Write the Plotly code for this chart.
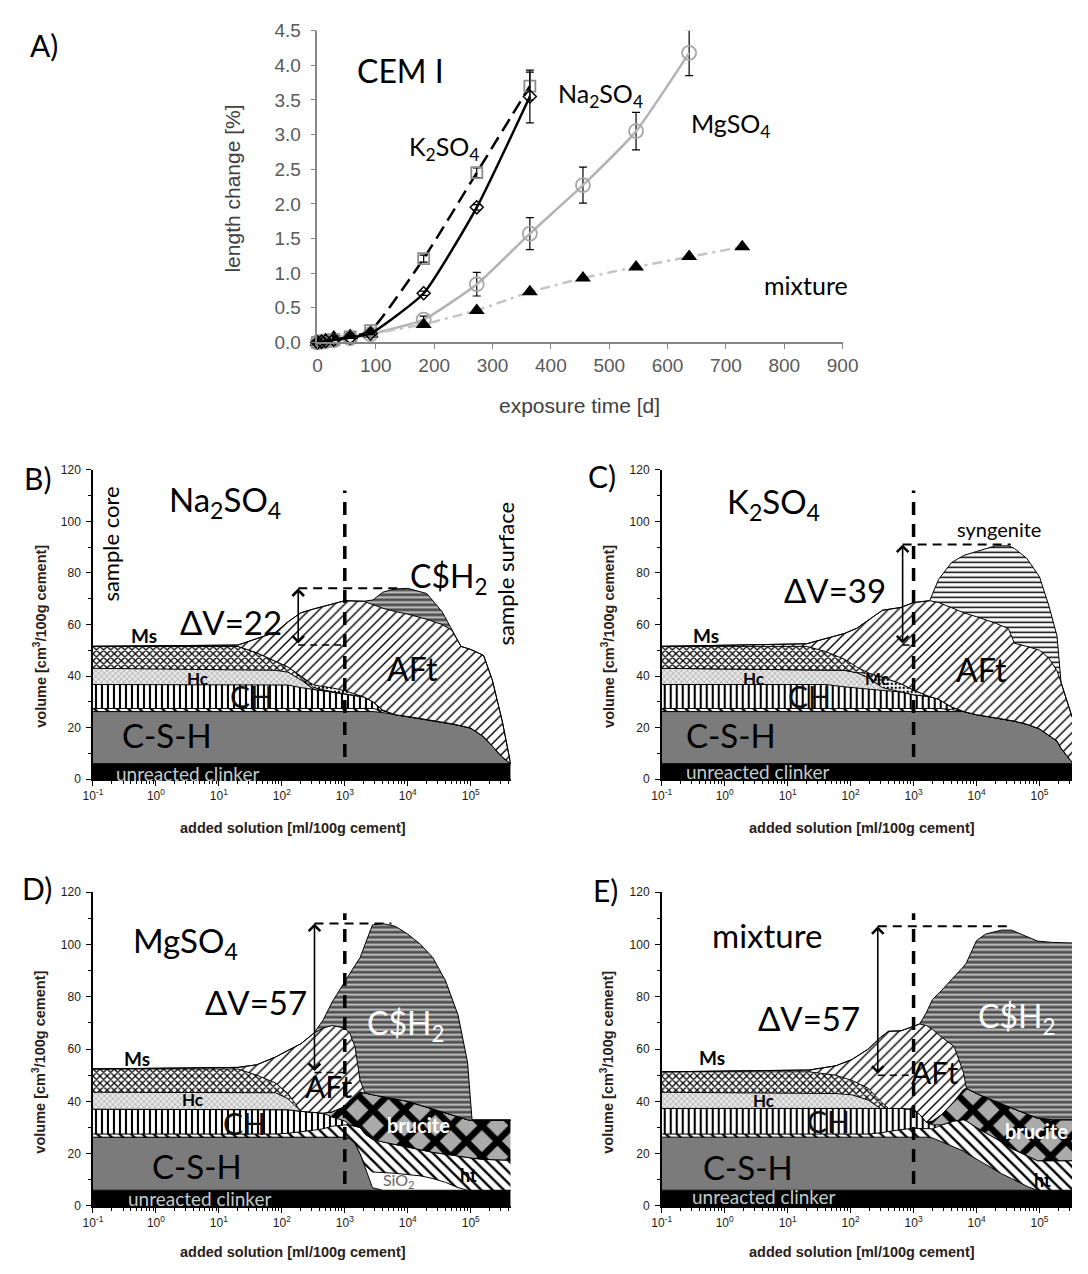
import numpy as np
import plotly.graph_objects as go

W, H = 1088, 1274


def px(x):
    return x / W


def py(y):
    return 1 - y / H


CAL = "Lato, 'Open Sans', sans-serif"
ARIAL = "'Liberation Sans', Arial, sans-serif"

# ---------------------------------------------------------------
# A) length change of CEM I bars in sulfate solutions
# ---------------------------------------------------------------
days_k2so4 = [0, 7, 14, 28, 56, 91, 182, 273, 364]
len_k2so4 = [0, 0.01, 0.02, 0.04, 0.08, 0.17, 1.21, 2.45, 3.70]
err_k2so4 = [0, 0, 0, 0, 0, 0, 0.05, 0.07, 0.20]

days_na2so4 = [0, 7, 14, 28, 56, 91, 182, 273, 364]
len_na2so4 = [0, 0.01, 0.02, 0.04, 0.07, 0.13, 0.71, 1.95, 3.55]
err_na2so4 = [0, 0, 0, 0, 0, 0, 0.03, 0.04, 0.38]

days_mgso4 = [0, 7, 14, 28, 56, 91, 182, 273, 364, 455, 546, 637]
len_mgso4 = [0, 0.01, 0.02, 0.03, 0.06, 0.12, 0.33, 0.84, 1.57, 2.27, 3.05, 4.18]
err_mgso4 = [0, 0, 0, 0, 0, 0, 0.05, 0.17, 0.23, 0.26, 0.27, 0.33]

days_mix = [0, 7, 14, 28, 56, 91, 182, 273, 364, 455, 546, 637, 728]
len_mix = [0, 0.02, 0.04, 0.08, 0.10, 0.12, 0.26, 0.46, 0.73, 0.93, 1.09, 1.24, 1.38]

# ---------------------------------------------------------------
# B-E) modelled phase assemblage: cumulative upper boundary of each
# phase [cm3/100 g cement] vs. added solution [ml/100 g cement]
# ---------------------------------------------------------------
B_x = [0.1, 20, 40, 80, 125, 200, 320, 630, 1000, 2000, 2800, 4000, 6300,
       1e4, 2e4, 3.5e4, 5e4, 7e4, 1e5, 1.6e5, 2.2e5, 3.2e5, 4.3e5]
B_clinker = [6] * 23
B_csh = [26.2, 26.2, 26.2, 26.2, 26.2, 26.2, 26.2, 26.2, 26.2, 26.2, 26.2, 25.8, 25.0,
         24.3, 23.2, 22.2, 21.5, 20.7, 19.8, 16.5, 13.0, 8.5, 6]
B_ht = [27.4, 27.4, 27.4, 27.4, 27.4, 27.4, 27.4, 27.4, 27.4, 27.4, 27.4, 26.5, 25.0,
        24.3, 23.2, 22.2, 21.5, 20.7, 19.8, 16.5, 13.0, 8.5, 6]
B_ch = [36.7, 36.7, 36.7, 36.7, 36.5, 35.5, 34.8, 33.9, 33.1, 31.9, 30.0, 26.8, 25.0,
        24.3, 23.2, 22.2, 21.5, 20.7, 19.8, 16.5, 13.0, 8.5, 6]
B_hc = [43.0, 42.5, 42.4, 42.2, 41.5, 38.5, 34.8, 33.9, 33.1, 31.9, 30.0, 26.8, 25.0,
        24.3, 23.2, 22.2, 21.5, 20.7, 19.8, 16.5, 13.0, 8.5, 6]
B_ms = [51.5, 51.5, 49.0, 45.5, 43.5, 40.0, 35.5, 33.9, 33.1, 31.9, 30.0, 26.8, 25.0,
        24.3, 23.2, 22.2, 21.5, 20.7, 19.8, 16.5, 13.0, 8.5, 6]
B_mc = [51.5, 51.5, 49.0, 45.5, 43.5, 40.0, 36.5, 35.4, 34.3, 31.9, 30.0, 26.8, 25.0,
        24.3, 23.2, 22.2, 21.5, 20.7, 19.8, 16.5, 13.0, 8.5, 6]
B_aft = [51.5, 52.0, 54.5, 57.0, 61.0, 64.5, 66.0, 68.0, 69.2, 69.0, 67.8, 66.3, 65.0,
         64.0, 62.0, 60.0, 57.8, 51.5, 50.3, 48.0, 38.5, 22.0, 6]
B_gyp = [51.5, 52.0, 54.5, 57.0, 61.0, 64.5, 66.0, 68.0, 69.2, 69.0, 69.5, 72.5, 73.8,
         74.0, 72.0, 65.0, 57.8, 51.5, 50.3, 48.0, 38.5, 22.0, 6]

C_x = [0.1, 20, 40, 80, 125, 200, 320, 630, 1000, 1800, 2500, 4000, 6300,
       1e4, 2e4, 3.2e4, 4e4, 6.3e4, 1e5, 1.4e5, 1.9e5, 2.2e5, 2.8e5, 3.3e5]
C_clinker = [6] * 24
C_csh = [26.2, 26.2, 26.2, 26.2, 26.2, 26.2, 26.2, 26.2, 26.2, 26.2, 26.2, 26.2, 26.2,
         25.0, 23.8, 23.0, 22.5, 21.3, 19.5, 17.0, 14.8, 12.0, 8.5, 6.5]
C_ht = [27.4, 27.4, 27.4, 27.4, 27.4, 27.4, 27.4, 27.4, 27.4, 27.4, 27.4, 27.0, 26.2,
        25.0, 23.8, 23.0, 22.5, 21.3, 19.5, 17.0, 14.8, 12.0, 8.5, 6.5]
C_ch = [36.7, 36.7, 36.7, 35.8, 35.3, 34.8, 34.4, 33.8, 32.7, 32.0, 31.0, 28.0, 26.2,
        25.0, 23.8, 23.0, 22.5, 21.3, 19.5, 17.0, 14.8, 12.0, 8.5, 6.5]
C_hc = [43.0, 42.4, 42.4, 42.2, 41.3, 39.0, 35.5, 33.8, 32.7, 32.0, 31.0, 28.0, 26.2,
        25.0, 23.8, 23.0, 22.5, 21.3, 19.5, 17.0, 14.8, 12.0, 8.5, 6.5]
C_mc = [43.0, 42.4, 42.4, 42.2, 41.3, 41.0, 39.5, 37.0, 34.5, 32.0, 31.0, 28.0, 26.2,
        25.0, 23.8, 23.0, 22.5, 21.3, 19.5, 17.0, 14.8, 12.0, 8.5, 6.5]
C_ms = [51.5, 51.5, 49.5, 46.5, 43.5, 41.0, 39.5, 37.0, 34.5, 32.0, 31.0, 28.0, 26.2,
        25.0, 23.8, 23.0, 22.5, 21.3, 19.5, 17.0, 14.8, 12.0, 8.5, 6.5]
C_aft = [51.5, 52.5, 54.5, 56.5, 58.5, 62.0, 65.5, 66.6, 68.5, 69.2, 68.5, 66.5, 64.5,
         63.0, 60.5, 58.4, 52.7, 51.5, 50.0, 47.0, 42.0, 37.5, 30.0, 24.0]
C_syn = [51.5, 52.5, 54.5, 56.5, 58.5, 62.0, 65.5, 66.6, 68.5, 69.2, 77.5, 84.0, 86.8,
         88.3, 90.5, 90.5, 89.5, 85.6, 78.5, 67.5, 55.5, 37.5, 30.0, 24.0]

D_x = [0.1, 20, 40, 80, 125, 200, 320, 450, 630, 1000, 1200, 1450, 1750, 2100,
       2750, 4000, 6300, 1e4, 1.6e4, 2.5e4, 4e4, 6.3e4, 8.9e4, 1.05e5, 1.6e5, 4.3e5]
D_clinker = [6] * 26
D_csh = [26.3, 26.3, 26.3, 26.3, 26.3, 26.3, 26.3, 26.3, 26.3, 26.3, 25.8, 24.0, 20.0,
         15.0, 7.0, 6, 6, 6, 6, 6, 6, 6, 6, 6, 6, 6]
D_sio2 = [26.3, 26.3, 26.3, 26.3, 26.3, 26.3, 26.3, 26.3, 26.3, 26.3, 25.8, 24.0, 20.0,
          15.5, 13.0, 12.8, 12.5, 12.0, 11.5, 10.5, 9.0, 7.0, 6.0, 6.0, 6.0, 6.0]
D_ht = [27.5, 27.5, 27.5, 27.5, 27.8, 28.3, 29.0, 29.5, 30.5, 31.0, 31.0, 30.5, 30.0,
        27.5, 25.5, 24.5, 23.5, 22.5, 21.5, 20.5, 19.8, 19.0, 18.5, 18.3, 17.8, 17.5]
D_ch = [37.0, 37.0, 37.0, 37.0, 36.8, 36.2, 35.8, 35.5, 34.0, 32.5, 31.0, 30.5, 30.0,
        27.5, 25.5, 24.5, 23.5, 22.5, 21.5, 20.5, 19.8, 19.0, 18.5, 18.3, 17.8, 17.5]
D_brucite = [37.0, 37.0, 37.0, 37.0, 36.8, 36.2, 35.8, 35.5, 36.0, 38.0, 40.0, 42.0, 43.6,
             43.2, 42.5, 41.8, 41.0, 40.0, 38.5, 37.0, 35.5, 34.0, 33.0, 32.8, 32.8, 32.8]
D_hc = [43.5, 43.5, 43.4, 43.3, 41.0, 36.2, 35.8, 35.5, 36.0, 38.0, 40.0, 42.0, 43.6,
        43.2, 42.5, 41.8, 41.0, 40.0, 38.5, 37.0, 35.5, 34.0, 33.0, 32.8, 32.8, 32.8]
D_ms = [52.4, 52.4, 50.0, 47.0, 43.0, 36.2, 35.8, 35.5, 36.0, 38.0, 40.0, 42.0, 43.6,
        43.2, 42.5, 41.8, 41.0, 40.0, 38.5, 37.0, 35.5, 34.0, 33.0, 32.8, 32.8, 32.8]
D_aft = [52.4, 53.0, 54.0, 57.0, 59.5, 62.0, 66.0, 68.0, 69.0, 68.0, 66.0, 61.0, 48.0,
         43.2, 42.5, 41.8, 41.0, 40.0, 38.5, 37.0, 35.5, 34.0, 33.0, 32.8, 32.8, 32.8]
D_gyp = [52.4, 53.0, 54.0, 57.0, 59.5, 62.0, 66.0, 71.0, 78.0, 86.0, 89.0, 92.0, 95.0,
         100.0, 107.5, 108.0, 107.0, 104.0, 100.0, 95.0, 86.0, 73.0, 55.0, 32.8, 32.8, 32.8]

E_x = [0.1, 22, 58, 105, 190, 300, 400, 630, 1000, 1250, 1600, 2000, 2800, 4400,
       6200, 6900, 1e4, 1.4e4, 2.5e4, 3.6e4, 6.6e4, 9.3e4, 1.6e5, 3.3e5]
E_clinker = [6] * 24
E_csh = [26.3, 26.3, 26.3, 26.3, 26.3, 26.3, 26.3, 26.3, 26.3, 26.3, 26.3, 26.0, 24.5,
         22.5, 21.0, 20.2, 18.0, 16.0, 12.3, 10.5, 7.3, 6.0, 6, 6]
E_ht = [27.5, 27.5, 27.5, 27.5, 27.5, 28.0, 28.5, 29.2, 29.7, 29.7, 29.5, 29.5, 31.0,
        32.5, 33.0, 32.5, 30.0, 28.0, 24.5, 22.0, 19.0, 17.3, 17.3, 17.3]
E_ch = [37.3, 37.3, 37.3, 37.3, 37.3, 37.3, 37.3, 37.3, 37.0, 35.0, 32.0, 31.0, 31.0,
        32.5, 33.0, 32.5, 30.0, 28.0, 24.5, 22.0, 19.0, 17.3, 17.3, 17.3]
E_brucite = [37.3, 37.3, 37.3, 37.3, 37.3, 37.3, 37.3, 37.3, 37.0, 35.0, 32.0, 32.5, 35.0,
             40.0, 44.5, 45.0, 43.0, 41.5, 39.0, 37.5, 35.0, 33.6, 33.0, 33.0]
E_hc = [43.5, 43.3, 43.0, 42.5, 40.5, 37.3, 37.3, 37.3, 37.0, 35.0, 32.0, 32.5, 35.0,
        40.0, 44.5, 45.0, 43.0, 41.5, 39.0, 37.5, 35.0, 33.6, 33.0, 33.0]
E_ms = [51.3, 51.3, 50.0, 48.0, 45.0, 40.0, 37.3, 37.3, 37.0, 35.0, 32.0, 32.5, 35.0,
        40.0, 44.5, 45.0, 43.0, 41.5, 39.0, 37.5, 35.0, 33.6, 33.0, 33.0]
E_aft = [51.3, 52.0, 53.6, 56.0, 60.0, 64.5, 66.8, 67.0, 68.7, 69.6, 69.0, 67.5, 64.5,
         61.0, 51.0, 45.0, 43.0, 41.5, 39.0, 37.5, 35.0, 33.6, 33.0, 33.0]
E_gyp = [51.3, 52.0, 53.6, 56.0, 60.0, 64.5, 66.8, 67.0, 68.7, 69.6, 74.0, 79.0, 82.5,
         87.5, 91.5, 93.0, 101.5, 104.0, 105.5, 105.5, 102.7, 101.3, 100.8, 100.6]

# expansion arrows: position [ml/100 g], initial volume, volume increase
dv_x = {'B': 182, 'C': 670, 'D': 330, 'E': 270}
dv_base = {'B': 52, 'C': 52, 'D': 51, 'E': 50}
dv_value = {'B': 22, 'C': 39, 'D': 57, 'E': 57}
dv_top_end = {'B': 7000, 'C': 3.5e4, 'D': 5500, 'E': 3.2e4}

decade_vals = [0.1, 1, 10, 100, 1e3, 1e4, 1e5]
decade_text = ['10<sup>-1</sup>', '10<sup>0</sup>', '10<sup>1</sup>', '10<sup>2</sup>',
               '10<sup>3</sup>', '10<sup>4</sup>', '10<sup>5</sup>']


def pat(shape, fg, bg, size, solidity):
    return dict(shape=shape, fgcolor=fg, bgcolor=bg, size=size, solidity=solidity,
                fillmode='replace')


STYLE = {
    'clinker': dict(color='black'),
    'csh': dict(color='#7b7b7b'),
    'sio2': dict(color='white'),
    'ht': dict(pattern=pat('\\', 'black', 'white', 8, 0.3)),
    'ch': dict(pattern=pat('|', 'black', 'white', 6, 0.35)),
    'hc': dict(pattern=pat('x', '#a2a2a2', '#e6e6e6', 4, 0.3)),
    'ms': dict(pattern=pat('x', 'black', 'white', 5, 0.45)),
    'mc': dict(pattern=pat('.', 'black', 'white', 4, 0.3)),
    'aft': dict(pattern=pat('/', 'black', 'white', 7, 0.2)),
    'gyp': dict(pattern=pat('-', '#c6c6c6', '#4f4f4f', 5, 0.4)),
    'syn': dict(pattern=pat('-', 'black', 'white', 5, 0.3)),
    'brucite': dict(pattern=pat('x', 'black', '#ababab', 22, 0.5)),
}

fig = go.Figure()

# ---------------- panel A traces ----------------
err_style = dict(type='data', visible=True, color='black', thickness=1.2, width=4)

fig.add_trace(go.Scatter(
    x=days_mgso4, y=len_mgso4, mode='lines+markers', name='MgSO4',
    line=dict(color='#b3b3b3', width=2.5, shape='spline', smoothing=0.5),
    marker=dict(symbol='circle-open', size=14, color='#a6a6a6', line=dict(width=1.8)),
    error_y=dict(array=err_mgso4, **err_style), cliponaxis=False))
fig.add_trace(go.Scatter(
    x=days_mix, y=len_mix, mode='lines+markers', name='mixture',
    line=dict(color='#c4c4c4', width=2.5, dash='10px,5px,3px,5px'),
    marker=dict(symbol='triangle-up', size=14, color='black'), cliponaxis=False))
fig.add_trace(go.Scatter(
    x=days_k2so4, y=len_k2so4, mode='lines+markers', name='K2SO4',
    line=dict(color='black', width=2.5, dash='14px,7px', shape='spline', smoothing=0.5),
    marker=dict(symbol='square-open', size=11, color='#8c8c8c', line=dict(width=1.8)),
    error_y=dict(array=err_k2so4, **err_style), cliponaxis=False))
fig.add_trace(go.Scatter(
    x=days_na2so4, y=len_na2so4, mode='lines+markers', name='Na2SO4',
    line=dict(color='black', width=2.5, shape='spline', smoothing=0.5),
    marker=dict(symbol='diamond-open', size=10, color='black', line=dict(width=1.5)),
    error_y=dict(array=err_na2so4, **err_style), cliponaxis=False))


# ---------------- panels B-E ----------------
def add_stack(xa, ya, x, layers):
    for i, (key, top) in enumerate(layers):
        st = STYLE[key]
        kw = dict(fillcolor=st.get('color', 'white'))
        if 'pattern' in st:
            kw['fillpattern'] = st['pattern']
        fig.add_trace(go.Scatter(
            x=x, y=top, mode='lines', line=dict(color='black', width=1),
            fill='tozeroy' if i == 0 else 'tonexty', xaxis=xa, yaxis=ya,
            hoverinfo='skip', showlegend=False, **kw))


def add_guides(xa, ya, key):
    base = dv_base[key]
    top = base + dv_value[key]
    x0 = dv_x[key]
    common = dict(mode='lines', xaxis=xa, yaxis=ya, hoverinfo='skip', showlegend=False)
    fig.add_trace(go.Scatter(x=[1000, 1000], y=[0, 112],
                             line=dict(color='black', width=3.5, dash='13px,9px'), **common))
    fig.add_trace(go.Scatter(x=[x0, dv_top_end[key]], y=[top, top],
                             line=dict(color='black', width=2, dash='9px,6px'), **common))
    fig.add_trace(go.Scatter(x=[x0, 1000], y=[base, base],
                             line=dict(color='black', width=1.5, dash='7px,5px'), **common))


add_stack('x2', 'y2', B_x, [('clinker', B_clinker), ('csh', B_csh), ('ht', B_ht),
                            ('ch', B_ch), ('hc', B_hc), ('ms', B_ms), ('mc', B_mc),
                            ('aft', B_aft), ('gyp', B_gyp)])
add_guides('x2', 'y2', 'B')
add_stack('x3', 'y3', C_x, [('clinker', C_clinker), ('csh', C_csh), ('ht', C_ht),
                            ('ch', C_ch), ('hc', C_hc), ('mc', C_mc), ('ms', C_ms),
                            ('aft', C_aft), ('syn', C_syn)])
add_guides('x3', 'y3', 'C')
add_stack('x4', 'y4', D_x, [('clinker', D_clinker), ('csh', D_csh), ('sio2', D_sio2),
                            ('ht', D_ht), ('ch', D_ch), ('brucite', D_brucite),
                            ('hc', D_hc), ('ms', D_ms), ('aft', D_aft), ('gyp', D_gyp)])
add_guides('x4', 'y4', 'D')
add_stack('x5', 'y5', E_x, [('clinker', E_clinker), ('csh', E_csh), ('ht', E_ht),
                            ('ch', E_ch), ('brucite', E_brucite), ('hc', E_hc),
                            ('ms', E_ms), ('aft', E_aft), ('gyp', E_gyp)])
add_guides('x5', 'y5', 'E')

# ---------------- axes ----------------
a_tick = dict(family=ARIAL, size=19, color='#595959')
a_ax = dict(showline=True, linecolor='#868686', linewidth=1.5, ticks='outside',
            ticklen=5, tickcolor='#868686', showgrid=False, zeroline=False, tickfont=a_tick)

small_tick = dict(family=ARIAL, size=12, color='#1e1812')


def log_x(dom, rng, anchor):
    return dict(type='log', domain=dom, range=rng, anchor=anchor, tickmode='array',
                tickvals=decade_vals, ticktext=decade_text, ticks='outside', ticklen=5,
                tickcolor='black', showline=True, linecolor='black', linewidth=1.5,
                showgrid=False, zeroline=False, tickfont=small_tick,
                minor=dict(ticks='outside', ticklen=3, tickcolor='black',
                           tickmode='linear', dtick='D1', showgrid=False))


def vol_y(dom, anchor):
    return dict(domain=dom, range=[0, 120], anchor=anchor, dtick=20, ticks='outside',
                ticklen=5, tickcolor='black', showline=True, linecolor='black',
                linewidth=1.5, showgrid=False, zeroline=False, tickfont=small_tick,
                ticklabelstandoff=3,
                minor=dict(ticks='outside', ticklen=3, dtick=10, tickcolor='black'))


left_dom = [px(85), px(513)]
right_dom = [px(667.7), 1.0]
top_dom = [py(782), py(467.5)]
bot_dom = [py(1216), py(897)]
left_rng = [-1, -1 + (513 - 85) / 64.5]
right_rng = [-1, -1 + (1088 - 667.7) / 64.5]

fig.update_layout(
    width=W, height=H, margin=dict(l=0, r=0, t=0, b=0), autosize=False,
    paper_bgcolor='white', plot_bgcolor='white', showlegend=False,
    xaxis=dict(domain=[px(315), px(853)], range=[0, 900], dtick=100, anchor='y', **a_ax),
    yaxis=dict(domain=[py(338), py(21)], range=[0, 4.5], dtick=0.5, tickformat='.1f',
               anchor='x', ticklabelstandoff=6, **a_ax),
    xaxis2=log_x(left_dom, left_rng, 'y2'), yaxis2=vol_y(top_dom, 'x2'),
    xaxis3=log_x(right_dom, right_rng, 'y3'), yaxis3=vol_y(top_dom, 'x3'),
    xaxis4=log_x(left_dom, left_rng, 'y4'), yaxis4=vol_y(bot_dom, 'x4'),
    xaxis5=log_x(right_dom, right_rng, 'y5'), yaxis5=vol_y(bot_dom, 'x5'),
)

# ---------------- text ----------------
ann = []


def txt(x, y, s, size, color='black', family=CAL, angle=0):
    ann.append(dict(x=px(x), y=py(y), xref='paper', yref='paper', text=s,
                    showarrow=False, textangle=angle, xanchor='center', yanchor='middle',
                    font=dict(family=family, size=size, color=color)))


NA = 'Na<sub>2</sub>SO<sub>4</sub>'
K = 'K<sub>2</sub>SO<sub>4</sub>'
MG = 'MgSO<sub>4</sub>'
GYP = 'C$H<sub>2</sub>'
CLK = '#c2cccc'

# panel A
txt(35, 36, 'A)', 30)
txt(400, 62, 'CEM I', 32)
txt(445, 140, K, 25)
txt(605, 86, NA, 25)
txt(738, 117, MG, 25)
txt(815, 280, 'mixture', 25)
txt(228, 182, 'length change [%]', 21, '#404040', ARIAL, -90)
txt(583, 402, 'exposure time [d]', 21, '#404040', ARIAL)

# panel B
txt(28, 476, 'B)', 30)
txt(220, 500, NA, 33)
txt(103, 543, 'sample core', 22, angle=-90)
txt(508, 573, 'sample surface', 22, angle=-90)
txt(226, 622, 'ΔV=' + str(dv_value['B']), 33)
txt(449, 578, GYP, 32)
txt(412, 670, 'AFt', 32)
txt(247, 698, 'CH', 30, '#111')
txt(161, 737, 'C-S-H', 33)
txt(182, 776, 'unreacted clinker', 19, CLK)
txt(137, 636, '<b>Ms</b>', 19)
txt(192, 680, '<b>Hc</b>', 17)

# panel C
txt(606, 474, 'C)', 30)
txt(782, 502, K, 33)
txt(845, 590, 'ΔV=' + str(dv_value['C']), 33)
txt(1013, 528, 'syngenite', 20)
txt(995, 671, 'AFt', 32)
txt(888, 680, '<b>Mc</b>', 17)
txt(819, 698, 'CH', 30, '#111')
txt(739, 737, 'C-S-H', 33)
txt(766, 774, 'unreacted clinker', 19, CLK)
txt(713, 636, '<b>Ms</b>', 19)
txt(762, 680, '<b>Hc</b>', 17)

# panel D
txt(28, 893, 'D)', 30)
txt(180, 948, MG, 33)
txt(252, 1009, 'ΔV=' + str(dv_value['D']), 33)
txt(405, 1032, GYP, 32, 'white')
txt(327, 1094, 'AFt', 30)
txt(418, 1134, '<b>brucite</b>', 20, 'white')
txt(399, 1190, 'SiO<sub>2</sub>', 16, '#666')
txt(470, 1185, '<b>ht</b>', 18)
txt(240, 1132, 'CH', 30, '#111')
txt(192, 1175, 'C-S-H', 33)
txt(194, 1208, 'unreacted clinker', 19, CLK)
txt(130, 1066, '<b>Ms</b>', 19)
txt(187, 1108, '<b>Hc</b>', 17)

# panel E
txt(610, 895, 'E)', 30)
txt(776, 941, 'mixture', 33)
txt(819, 1025, 'ΔV=' + str(dv_value['E']), 33)
txt(1031, 1025, GYP, 32, 'white')
txt(948, 1080, 'AFt', 30)
txt(1052, 1140, '<b>brucite</b>', 20, 'white')
txt(1058, 1190, '<b>ht</b>', 18)
txt(839, 1130, 'CH', 30, '#111')
txt(756, 1176, 'C-S-H', 33)
txt(772, 1206, 'unreacted clinker', 19, CLK)
txt(719, 1065, '<b>Ms</b>', 19)
txt(772, 1109, '<b>Hc</b>', 17)

# axis titles of the phase plots
vol_title = '<b>volume [cm<sup>3</sup>/100g cement]</b>'
sol_title = '<b>added solution [ml/100g cement]</b>'
for (xt, yt, xs, ys) in [(30, 637, 290, 832), (612, 637, 873, 832),
                         (30, 1070, 290, 1263), (612, 1070, 873, 1263)]:
    txt(xt, yt, vol_title, 14.5, '#2a2018', ARIAL, -90)
    txt(xs, ys, sol_title, 14.5, '#2a2018', ARIAL)

# double-headed expansion arrows
for key, (xa, ya) in {'B': ('x2', 'y2'), 'C': ('x3', 'y3'),
                      'D': ('x4', 'y4'), 'E': ('x5', 'y5')}.items():
    lx = float(np.log10(dv_x[key]))
    ann.append(dict(x=lx, y=dv_base[key] + dv_value[key], ax=lx, ay=dv_base[key],
                    xref=xa, yref=ya, axref=xa, ayref=ya, text='', showarrow=True,
                    arrowhead=4, startarrowhead=4, arrowside='end+start',
                    arrowsize=1.4, startarrowsize=1.4, arrowwidth=1.6, arrowcolor='black'))

fig.update_layout(annotations=ann)
fig.write_html('out.html')
